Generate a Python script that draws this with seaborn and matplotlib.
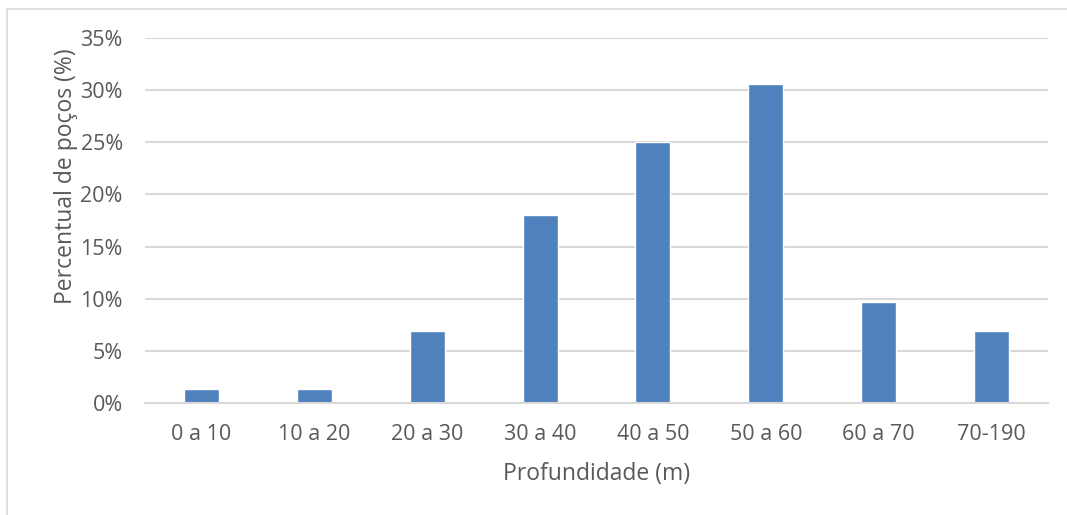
import matplotlib
matplotlib.use("Agg")
import matplotlib.pyplot as plt
import seaborn as sns
import pandas as pd
from matplotlib.ticker import PercentFormatter
from matplotlib.lines import Line2D

# Depth classes and share of wells in each
faixas = ["0 a 10", "10 a 20", "20 a 30", "30 a 40", "40 a 50", "50 a 60", "60 a 70", "70-190"]
percentual = [1.39, 1.39, 6.94, 18.06, 25.0, 30.56, 9.72, 6.94]
y_ticks = [0, 5, 10, 15, 20, 25, 30, 35]

df = pd.DataFrame({"faixa": faixas, "pct": percentual})

sns.set_theme(style="white")
plt.rcParams["font.family"] = ["Open Sans", "DejaVu Sans"]

texto = "#595959"
grade = "#d9d9d9"
azul = "#4f81bd"

W, H = 1067, 515
fig = plt.figure(figsize=(W / 100, H / 100), dpi=100)
ax = fig.add_axes([145 / W, 1 - 403 / H, (1048 - 145) / W, (403 - 38) / H])

sns.barplot(data=df, x="faixa", y="pct", color=azul, width=0.31, saturation=1, ax=ax, zorder=3)

ax.set_ylim(0, 35)
ax.set_yticks(y_ticks)
ax.yaxis.set_major_formatter(PercentFormatter(decimals=0))
ax.set_xlim(-0.5, len(faixas) - 0.5)
ax.grid(axis="y", color=grade, linewidth=1.5, zorder=0)
ax.set_axisbelow(True)
for s in ["top", "right", "left"]:
    ax.spines[s].set_visible(False)
ax.spines["bottom"].set_color(grade)
ax.spines["bottom"].set_linewidth(1.5)
ax.spines["bottom"].set_zorder(4)

ax.tick_params(axis="both", length=0, labelsize=15.5, colors=texto)
ax.tick_params(axis="y", pad=16)
ax.tick_params(axis="x", pad=15)
ax.set_xlabel("")
ax.set_ylabel("")

fig.text(597 / W, 1 - 474 / H, "Profundidade (m)", fontsize=16.5, color=texto,
         ha="center", va="center")
fig.text(66 / W, 1 - 176 / H, "Percentual de poços (%)", fontsize=16.5, color=texto,
         ha="center", va="center", rotation=90)

# Chart frame: top and left edges
fig.add_artist(Line2D([7 / W, 1], [1 - 9 / H, 1 - 9 / H], transform=fig.transFigure, color=grade, linewidth=1.2))
fig.add_artist(Line2D([7 / W, 7 / W], [0, 1 - 9 / H], transform=fig.transFigure, color=grade, linewidth=1.2))

fig.savefig("out.png", dpi=100, facecolor="white")
